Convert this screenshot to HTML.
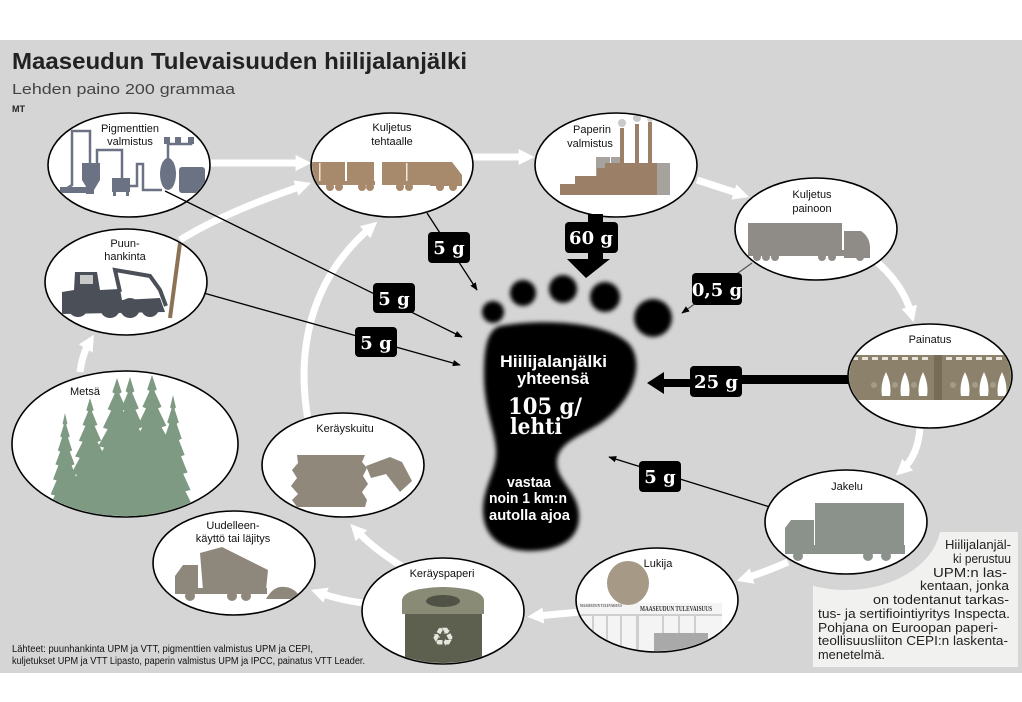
<!DOCTYPE html>
<html><head><meta charset="utf-8">
<style>html,body{margin:0;padding:0;background:#fff}svg{display:block}</style>
</head><body>
<svg width="1022" height="702" viewBox="0 0 1022 702" xmlns="http://www.w3.org/2000/svg" font-family="'Liberation Sans', Arial, sans-serif">
<defs>
<marker id="wa" markerUnits="userSpaceOnUse" markerWidth="16" markerHeight="16" viewBox="0 0 10 10" refX="4" refY="5" orient="auto"><path d="M0,0L10,5L0,10z" fill="#fff"/></marker>
<marker id="ba" markerUnits="userSpaceOnUse" markerWidth="8" markerHeight="8" viewBox="0 0 10 10" refX="9" refY="5" orient="auto"><path d="M0,1L10,5L0,9z" fill="#000"/></marker>
<filter id="bl" x="-15%" y="-15%" width="130%" height="130%"><feGaussianBlur stdDeviation="2.2"/></filter>
<path id="spr" d="M0,0 L4,10 L2,11 L8,22 L5,23 L12,35 L8,36 L16,48 L11,49 L20,62 L14,63 L24,76 L17,77 L28,90 L20,91 L30,100 L-30,100 L-20,91 L-28,90 L-17,77 L-24,76 L-14,63 L-20,62 L-11,49 L-16,48 L-8,36 L-12,35 L-5,23 L-8,22 L-2,11 L-4,10 Z"/>
<clipPath id="c1"><ellipse cx="129" cy="165" rx="80" ry="51"/></clipPath>
<clipPath id="c2"><ellipse cx="392" cy="165" rx="80" ry="51"/></clipPath>
<clipPath id="c3"><ellipse cx="616" cy="165" rx="80" ry="51"/></clipPath>
<clipPath id="c4"><ellipse cx="816" cy="229" rx="80" ry="50"/></clipPath>
<clipPath id="c5"><ellipse cx="930" cy="376" rx="81" ry="51"/></clipPath>
<clipPath id="c6"><ellipse cx="846" cy="522" rx="80" ry="51"/></clipPath>
<clipPath id="c7"><ellipse cx="657" cy="600" rx="80" ry="51"/></clipPath>
<clipPath id="c8"><ellipse cx="443" cy="611" rx="80" ry="52"/></clipPath>
<clipPath id="c9"><ellipse cx="234" cy="563" rx="80" ry="51"/></clipPath>
<clipPath id="c10"><ellipse cx="343" cy="465" rx="80" ry="51"/></clipPath>
<clipPath id="c11"><ellipse cx="125" cy="444" rx="112" ry="72"/></clipPath>
<clipPath id="c12"><ellipse cx="126" cy="282" rx="80" ry="52"/></clipPath>
</defs>

<rect x="0" y="40" width="1022" height="633" fill="#d5d5d5"/>

<!-- note box -->
<rect x="813" y="532" width="205" height="135" fill="#f1f1ef"/>
<ellipse cx="846" cy="522" rx="95" ry="68" fill="#d5d5d5"/>

<!-- white flow arrows -->
<g fill="none" stroke="#fff" stroke-width="7" marker-end="url(#wa)">
<path d="M210,163 L302,163"/>
<path d="M180,240 Q225,212 302,186"/>
<path d="M80,372 Q82,355 89,343"/>
<path d="M308,420 C296,350 310,280 370,228"/>
<path d="M473,157 L525,157"/>
<path d="M697,180 L740,194"/>
<path d="M877,262 Q903,285 911,313"/>
<path d="M920,428 Q918,455 903,469"/>
<path d="M788,562 Q765,572 746,578"/>
<path d="M580,612 L537,616"/>
<path d="M363,603 Q340,600 320,593"/>
<path d="M403,567 Q375,550 357,531"/>
</g>

<!-- connectors behind ellipses -->
<g stroke="#000" stroke-width="1.3" fill="none">
<line x1="200" y1="292" x2="460" y2="365" marker-end="url(#ba)"/>
<line x1="770" y1="507" x2="609" y2="457" marker-end="url(#ba)"/>
<line x1="752" y1="263" x2="682" y2="313" stroke="#555" marker-end="url(#ba)"/>
</g>
<rect x="742" y="375" width="112" height="9" fill="#000"/>

<!-- ellipses -->
<g fill="#fff" stroke="#000" stroke-width="1.6">
<ellipse cx="129" cy="165" rx="81" ry="52"/>
<ellipse cx="392" cy="165" rx="81" ry="52"/>
<ellipse cx="616" cy="165" rx="81" ry="52"/>
<ellipse cx="816" cy="229" rx="81" ry="51"/>
<ellipse cx="930" cy="376" rx="82" ry="52"/>
<ellipse cx="846" cy="522" rx="81" ry="52"/>
<ellipse cx="657" cy="600" rx="81" ry="52"/>
<ellipse cx="443" cy="611" rx="81" ry="53"/>
<ellipse cx="234" cy="563" rx="81" ry="52"/>
<ellipse cx="343" cy="465" rx="81" ry="52"/>
<ellipse cx="125" cy="444" rx="113" ry="73"/>
<ellipse cx="126" cy="282" rx="81" ry="53"/>
</g>

<!-- icon 1 pigments -->
<g clip-path="url(#c1)" fill="#6b7283">
<path d="M48,200 L72,185 L72,131 L90,131 L90,163" fill="none" stroke="#6b7283" stroke-width="2.5"/>
<polyline points="97,163 97,150 122,150 122,178" fill="none" stroke="#6b7283" stroke-width="2.5"/>
<polyline points="129,186 137,186 137,164 143,164 143,190 162,190" fill="none" stroke="#6b7283" stroke-width="2.5"/>
<polyline points="168,160 168,150 168,144 191,144 191,140" fill="none" stroke="#6b7283" stroke-width="2.5"/>
<path d="M82,163 L100,163 L100,180 L94,190 L88,190 L82,180 Z"/>
<rect x="60" y="187" width="30" height="6"/>
<rect x="86" y="184" width="8" height="10"/>
<rect x="112" y="178" width="18" height="14"/>
<rect x="113" y="190" width="3" height="6"/><rect x="126" y="190" width="3" height="6"/>
<ellipse cx="168" cy="174" rx="8" ry="16"/>
<rect x="179" y="167" width="26" height="26" rx="3"/>
<rect x="164" y="137" width="6" height="7"/><rect x="175" y="137" width="6" height="7"/><rect x="188" y="137" width="6" height="7"/>
</g>

<!-- icon 2 truck brown -->
<g clip-path="url(#c2)" fill="#a78a6c">
<rect x="305" y="162" width="40" height="21"/>
<rect x="347" y="162" width="27" height="21"/>
<rect x="382" y="162" width="48" height="21"/>
<path d="M430,162 L452,162 L462,175 L462,186 L430,186 Z"/>
<rect x="305" y="181" width="70" height="4"/><rect x="382" y="181" width="80" height="4"/>
<circle cx="330" cy="187" r="4"/><circle cx="339" cy="187" r="4"/><circle cx="362" cy="187" r="4"/><circle cx="370" cy="187" r="4"/>
<circle cx="400" cy="187" r="4"/><circle cx="409" cy="187" r="4"/><circle cx="440" cy="187" r="4"/><circle cx="453" cy="187" r="4"/>
<rect x="319" y="163" width="1.5" height="18" fill="#f0e8dc"/><rect x="406" y="163" width="1.5" height="18" fill="#f0e8dc"/>
</g>

<!-- icon 3 factory -->
<g clip-path="url(#c3)">
<circle cx="622" cy="123" r="4" fill="#c9c9c9"/><circle cx="637" cy="118" r="4" fill="#c9c9c9"/><circle cx="650" cy="119" r="3" fill="#d0d0d0"/>
<rect x="596" y="157" width="14" height="38" fill="#a6a29e"/>
<rect x="611" y="157" width="13" height="38" fill="#a6a29e"/>
<rect x="656" y="163" width="14" height="32" fill="#a6a29e"/>
<g fill="#9b7f66">
<rect x="560" y="184" width="15" height="11"/>
<rect x="575" y="176" width="22" height="19"/>
<rect x="597" y="168" width="10" height="27"/>
<rect x="605" y="163" width="52" height="32"/>
<rect x="620" y="128" width="4" height="36"/><rect x="635" y="124" width="4" height="40"/><rect x="648" y="122" width="4" height="42"/>
</g>
</g>

<!-- icon 4 semi truck -->
<g clip-path="url(#c4)" fill="#8f8c87">
<rect x="748" y="223" width="94" height="29"/>
<path d="M844,231 L861,231 Q870,237 870,248 L870,258 L844,258 Z"/>
<rect x="748" y="250" width="122" height="6"/>
<circle cx="757" cy="257" r="4"/><circle cx="766" cy="257" r="4"/><circle cx="775" cy="257" r="4"/>
<circle cx="822" cy="257" r="4"/><circle cx="832" cy="257" r="4"/><circle cx="860" cy="257" r="4"/>
</g>

<!-- icon 5 press -->
<g clip-path="url(#c5)">
<rect x="848" y="360" width="164" height="40" fill="#8c826b"/>
<rect x="848" y="355" width="164" height="7" fill="#8c826b"/>
<g fill="#e8e4da">
<rect x="852" y="357" width="6" height="3"/><rect x="862" y="357" width="6" height="3"/><rect x="872" y="357" width="6" height="3"/><rect x="882" y="357" width="6" height="3"/><rect x="892" y="357" width="6" height="3"/><rect x="902" y="357" width="6" height="3"/><rect x="912" y="357" width="6" height="3"/><rect x="922" y="357" width="6" height="3"/>
<rect x="946" y="357" width="6" height="3"/><rect x="956" y="357" width="6" height="3"/><rect x="966" y="357" width="6" height="3"/><rect x="976" y="357" width="6" height="3"/><rect x="986" y="357" width="6" height="3"/><rect x="996" y="357" width="6" height="3"/>
</g>
<rect x="934" y="355" width="8" height="45" fill="#766c57"/>
<g fill="#fff">
<path d="M886,372 Q892,384 890,396 L882,396 Q880,384 886,372Z"/>
<path d="M905,372 Q911,384 909,396 L901,396 Q899,384 905,372Z"/>
<path d="M923,372 Q929,384 927,396 L919,396 Q917,384 923,372Z"/>
<path d="M965,372 Q971,384 969,396 L961,396 Q959,384 965,372Z"/>
<path d="M984,372 Q990,384 988,396 L980,396 Q978,384 984,372Z"/>
<path d="M1002,372 Q1008,384 1006,396 L998,396 Q996,384 1002,372Z"/>
</g>
<g fill="#a59c88"><circle cx="874" cy="385" r="3"/><circle cx="895" cy="385" r="3"/><circle cx="914" cy="385" r="3"/><circle cx="953" cy="385" r="3"/><circle cx="975" cy="385" r="3"/><circle cx="993" cy="385" r="3"/></g>
</g>

<!-- icon 6 delivery truck -->
<g clip-path="url(#c6)" fill="#8b918b">
<rect x="815" y="503" width="89" height="43"/>
<path d="M785,528 L791,520 L814,520 L814,553 L785,553 Z"/>
<rect x="785" y="545" width="120" height="9"/>
<circle cx="798" cy="556" r="5"/><circle cx="868" cy="556" r="5"/><circle cx="886" cy="556" r="5"/>
</g>

<!-- icon 7 reader -->
<g clip-path="url(#c7)">
<rect x="577" y="603" width="145" height="55" fill="#f4f4f4"/>
<g fill="#cfcfcf">
<rect x="577" y="614" width="145" height="2"/>
<rect x="592" y="616" width="2" height="40"/><rect x="606" y="616" width="2" height="40"/><rect x="620" y="616" width="2" height="40"/>
<rect x="636" y="614" width="3" height="42"/><rect x="662" y="616" width="2" height="20"/><rect x="678" y="616" width="2" height="20"/><rect x="694" y="616" width="2" height="20"/>
</g>
<rect x="654" y="633" width="54" height="22" fill="#a9a9a9"/>
<text x="640" y="611" font-family="'Liberation Serif', serif" font-weight="bold" font-size="7" fill="#333" textLength="72" lengthAdjust="spacingAndGlyphs">MAASEUDUN TULEVAISUUS</text>
<text x="580" y="607" font-family="'Liberation Serif', serif" font-weight="bold" font-size="4" fill="#555" textLength="42" lengthAdjust="spacingAndGlyphs">MAASEUDUN TULEVAISUUS</text>
<ellipse cx="628" cy="583" rx="21" ry="22" fill="#a69a86"/>
</g>

<!-- icon 8 bin -->
<g clip-path="url(#c8)">
<rect x="405" y="612" width="77" height="60" fill="#5d604f"/>
<path d="M402,614 L402,600 Q404,588 443,587 Q482,588 484,600 L484,614 Z" fill="#8a8b76"/>
<ellipse cx="443" cy="601" rx="17" ry="6" fill="#4f5244"/>
<text x="443" y="646" text-anchor="middle" font-family="'DejaVu Sans', sans-serif" font-size="26" fill="#e6e6de">♻</text>
</g>

<!-- icon 9 dump truck -->
<g clip-path="url(#c9)" fill="#8e877b">
<path d="M175,576 L183,565 L198,565 L198,592 L175,592 Z"/>
<path d="M200,553 L222,547 L268,570 L266,590 L203,590 Z"/>
<rect x="175" y="588" width="92" height="6"/>
<circle cx="190" cy="596" r="5"/><circle cx="232" cy="596" r="5"/><circle cx="246" cy="596" r="5"/>
<path d="M266,599 Q274,585 285,587 Q296,588 301,599 Z"/>
</g>

<!-- icon 10 fibre -->
<g clip-path="url(#c10)" fill="#8f887b">
<path d="M297,455 L365,455 L362,462 L367,468 L363,476 L368,484 L362,492 L367,500 L365,507 L297,507 L292,500 L298,494 L291,486 L297,478 L292,470 L298,463 Z"/>
<path d="M366,466 L390,457 L402,462 L412,481 L400,492 L386,474 L371,478 Z"/>
</g>

<!-- icon 11 forest -->
<g clip-path="url(#c11)" fill="#7f9a82">
<use href="#spr" transform="translate(65,413) scale(0.6,1.07)"/>
<use href="#spr" transform="translate(90,398) scale(0.93,1.22)"/>
<use href="#spr" transform="translate(117,378) scale(1.17,1.42)"/>
<use href="#spr" transform="translate(130,377) scale(1.1,1.43)"/>
<use href="#spr" transform="translate(152,375) scale(1.2,1.45)"/>
<use href="#spr" transform="translate(173,395) scale(0.73,1.25)"/>
</g>

<!-- icon 12 forwarder -->
<g clip-path="url(#c12)">
<line x1="180" y1="243" x2="170" y2="318" stroke="#8d7256" stroke-width="4"/>
<g fill="#4b5058">
<path d="M62,308 L62,292 L74,290 L75,272 L97,272 L100,290 L120,289 L122,300 L160,298 L165,312 L62,314 Z"/>
<circle cx="78" cy="307" r="10"/><circle cx="110" cy="308" r="10"/><circle cx="130" cy="308" r="10"/><circle cx="150" cy="308" r="9"/>
</g>
<polyline points="120,292 115,270 150,276 160,290 166,306" fill="none" stroke="#4b5058" stroke-width="4"/>
<rect x="80" y="275" width="13" height="9" fill="#c8c8c8"/>
</g>

<!-- connectors over ellipses -->
<g stroke="#000" stroke-width="1.3" fill="none">
<line x1="165" y1="191" x2="462" y2="337" marker-end="url(#ba)"/>
<line x1="427" y1="213" x2="477" y2="290" marker-end="url(#ba)"/>
</g>

<!-- ellipse labels -->
<g font-size="11" fill="#111" text-anchor="middle">
<text x="130" y="132">Pigmenttien</text><text x="130" y="145">valmistus</text>
<text x="392" y="131">Kuljetus</text><text x="392" y="145">tehtaalle</text>
<text x="592" y="133">Paperin</text><text x="590" y="147">valmistus</text>
<text x="812" y="198">Kuljetus</text><text x="812" y="212">painoon</text>
<text x="930" y="343">Painatus</text>
<text x="847" y="490">Jakelu</text>
<text x="658" y="567">Lukija</text>
<text x="442" y="577">Keräyspaperi</text>
<text x="233" y="529">Uudelleen-</text><text x="233" y="542">käyttö tai läjitys</text>
<text x="345" y="432">Keräyskuitu</text>
<text x="85" y="395">Metsä</text>
<text x="125" y="247">Puun-</text><text x="125" y="260">hankinta</text>
</g>

<!-- footprint -->
<g filter="url(#bl)" fill="#000">
<circle cx="493" cy="312" r="11"/>
<circle cx="523" cy="293" r="13"/>
<circle cx="563" cy="289" r="14"/>
<circle cx="605" cy="297" r="15"/>
<circle cx="653" cy="318" r="19"/>
<path d="M500,326 C545,318 610,322 630,345 C645,365 632,400 605,420 C585,435 560,440 557,460 C555,480 578,490 579,515 C580,542 555,551 530,551 C500,551 482,535 483,508 C484,485 497,470 496,450 C495,430 484,410 484,375 C484,345 488,330 500,326 Z"/>
</g>
<g fill="#fff" font-weight="bold">
<text x="500" y="367" font-size="17" textLength="107" lengthAdjust="spacingAndGlyphs">Hiilijalanjälki</text>
<text x="517" y="384" font-size="17" textLength="72" lengthAdjust="spacingAndGlyphs">yhteensä</text>
<text x="508" y="414" font-family="'DejaVu Serif', serif" font-size="22" textLength="74" lengthAdjust="spacingAndGlyphs">105 g/</text>
<text x="510" y="434" font-family="'DejaVu Serif', serif" font-size="22" textLength="52" lengthAdjust="spacingAndGlyphs">lehti</text>
<text x="507" y="487" font-size="15" textLength="44" lengthAdjust="spacingAndGlyphs">vastaa</text>
<text x="489" y="503" font-size="15" textLength="78" lengthAdjust="spacingAndGlyphs">noin 1 km:n</text>
<text x="489" y="520" font-size="15" textLength="81" lengthAdjust="spacingAndGlyphs">autolla ajoa</text>
</g>

<!-- 60 g arrow -->
<rect x="588" y="214" width="15" height="48" fill="#000"/>
<polygon points="567,259 610,259 586,278" fill="#000"/>
<!-- 25 g arrow -->
<rect x="660" y="379" width="32" height="8" fill="#000"/>
<polygon points="664,372 664,394 647,383" fill="#000"/>

<!-- labels -->
<g fill="#000">
<rect x="428" y="232" width="42" height="31" rx="4"/>
<rect x="373" y="283" width="42" height="30" rx="4"/>
<rect x="355" y="327" width="42" height="30" rx="4"/>
<rect x="565" y="222" width="53" height="31" rx="4"/>
<rect x="692" y="273" width="50" height="32" rx="4"/>
<rect x="690" y="366" width="52" height="31" rx="4"/>
<rect x="639" y="461" width="42" height="31" rx="4"/>
</g>
<g fill="#fff" font-family="'DejaVu Serif', serif" font-weight="bold" font-size="18" text-anchor="middle">
<text x="449" y="254">5 g</text>
<text x="394" y="305">5 g</text>
<text x="376" y="349">5 g</text>
<text x="591" y="244">60 g</text>
<text x="717" y="296">0,5 g</text>
<text x="716" y="388">25 g</text>
<text x="660" y="483">5 g</text>
</g>

<!-- title -->
<text x="12" y="69" font-size="23" font-weight="bold" fill="#222" textLength="455" lengthAdjust="spacingAndGlyphs">Maaseudun Tulevaisuuden hiilijalanjälki</text>
<text x="12" y="94" font-size="15" fill="#444" textLength="223" lengthAdjust="spacingAndGlyphs">Lehden paino 200 grammaa</text>
<text x="12" y="112" font-size="9" font-weight="bold" fill="#222" textLength="13" lengthAdjust="spacingAndGlyphs">MT</text>

<!-- sources -->
<text x="12" y="652" font-size="10" fill="#111" textLength="301" lengthAdjust="spacingAndGlyphs">Lähteet: puunhankinta UPM ja VTT, pigmenttien valmistus UPM ja CEPI,</text>
<text x="12" y="664" font-size="10" fill="#111" textLength="353" lengthAdjust="spacingAndGlyphs">kuljetukset UPM ja VTT Lipasto, paperin valmistus UPM ja IPCC, painatus VTT Leader.</text>

<!-- note text -->
<g font-size="13" fill="#222">
<text x="1011" y="549" text-anchor="end" textLength="66" lengthAdjust="spacingAndGlyphs">Hiilijalanjäl-</text>
<text x="1011" y="563" text-anchor="end" textLength="58" lengthAdjust="spacingAndGlyphs">ki perustuu</text>
<text x="1007" y="577" text-anchor="end" textLength="74" lengthAdjust="spacingAndGlyphs">UPM:n las-</text>
<text x="1009" y="590" text-anchor="end" textLength="89" lengthAdjust="spacingAndGlyphs">kentaan, jonka</text>
<text x="1009" y="604" text-anchor="end" textLength="136" lengthAdjust="spacingAndGlyphs">on todentanut tarkas-</text>
<text x="818" y="618" textLength="192" lengthAdjust="spacingAndGlyphs">tus- ja sertifiointiyritys Inspecta.</text>
<text x="818" y="632" textLength="180" lengthAdjust="spacingAndGlyphs">Pohjana on Euroopan paperi-</text>
<text x="818" y="645" textLength="190" lengthAdjust="spacingAndGlyphs">teollisuusliiton CEPI:n laskenta-</text>
<text x="818" y="659" textLength="67" lengthAdjust="spacingAndGlyphs">menetelmä.</text>
</g>
</svg>
</body></html>
